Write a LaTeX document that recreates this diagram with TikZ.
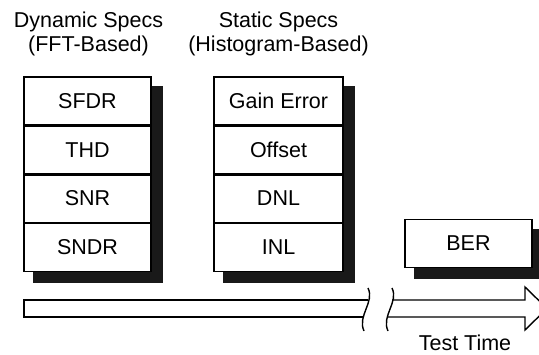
\documentclass[tikz,border=0pt]{standalone}
\usepackage{fontspec}
\setmainfont{Liberation Sans}
\usepackage{tikz}
\usetikzlibrary{positioning,calc,backgrounds}

\tikzset{
  specbox/.style={draw, line width=1.4pt, fill=white, minimum height=47.5pt, inner sep=0pt},
  shade/.style={fill=black!90},
  label/.style={align=center, inner sep=0pt}
}

\begin{document}
\begin{tikzpicture}[x=1pt, y=-1pt, font=\fontsize{21.5}{24}\selectfont]
    \useasboundingbox (0,0) rectangle (539,354);

    % dynamic specs
    \node[specbox, minimum width=127pt] (sfdr) at (87.5,100.75) {SFDR};
    \node[specbox, minimum width=127pt, below=0pt of sfdr] (thd) {THD};
    \node[specbox, minimum width=127pt, below=0pt of thd] (snr) {SNR};
    \node[specbox, minimum width=127pt, below=0pt of snr] (sndr) {SNDR};

    % static specs
    \node[specbox, minimum width=129pt] (gain) at (278.5,100.75) {Gain Error};
    \node[specbox, minimum width=129pt, below=0pt of gain] (offset) {Offset};
    \node[specbox, minimum width=129pt, below=0pt of offset] (dnl) {DNL};
    \node[specbox, minimum width=129pt, below=0pt of dnl] (inl) {INL};

    \node[specbox, minimum width=127pt] (ber) at (468.5,243.5) {BER};

    \begin{scope}[on background layer]
        \fill[shade] ($(sfdr.north west)+(10,10)$) rectangle ($(sndr.south east)+(11,11)$);
        \fill[shade] ($(gain.north west)+(10,10)$) rectangle ($(inl.south east)+(11,11)$);
        \fill[shade] ($(ber.north west)+(10,10)$) rectangle ($(ber.south east)+(11,11)$);
    \end{scope}

    \node[label] (dyn) at (88.5,34) {Dynamic Specs\\(FFT-Based)};
    \node[label] (stat) at (278.5,34) {Static Specs\\(Histogram-Based)};

    % time axis
    \draw[line width=1.4pt] (363,317) -- (24,317) -- (24,300) -- (368,300);
    \draw[line width=1.4pt] (368,288) .. controls (375,302) and (357,316) .. (364,331);
    \draw[line width=1.4pt] (392,288) .. controls (399,302) and (381,316) .. (388,331);
    \draw[line width=1.4pt, line join=miter] (392,300) -- (525,300) -- (525,287) -- (547,308.5)
        -- (525,330) -- (525,317) -- (387,317);
    \node[inner sep=0pt, anchor=base] (time) at (465,350) {Test Time};
\end{tikzpicture}
\end{document}
